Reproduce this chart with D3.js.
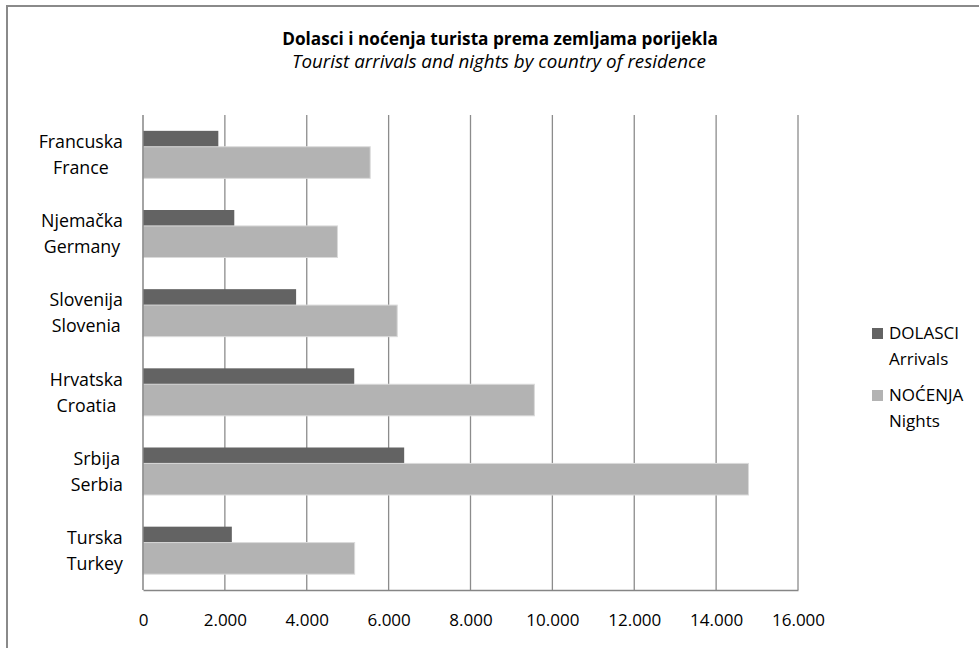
<!DOCTYPE html>
<html>
<head>
<meta charset="utf-8">
<script src="https://cdn.jsdelivr.net/npm/d3@7"></script>
<style>
  body { margin: 0; background: #fff; }
  text { font-family: "Open Sans", sans-serif; fill: #000; }
</style>
</head>
<body>
<svg id="chart"></svg>
<script>
// categories, two lines each (local name / english name)
const countries = ['Francuska', 'Njemačka', 'Slovenija', 'Hrvatska', 'Srbija', 'Turska'];
const countriesEn = ['France', 'Germany', 'Slovenia', 'Croatia', 'Serbia', 'Turkey'];
const arrivals = [1840, 2230, 3740, 5160, 6380, 2170];
const nights = [5550, 4750, 6210, 9560, 14790, 5170];
const xTicks = [0, 2000, 4000, 6000, 8000, 10000, 12000, 14000, 16000];

const W = 979, H = 648;
const svg = d3.select('#chart').attr('width', W).attr('height', H);

// outer frame
svg.append('rect')
  .attr('x', 7).attr('y', 6)
  .attr('width', W + 20).attr('height', H + 20)
  .attr('fill', 'none').attr('stroke', '#8a8a8a').attr('stroke-width', 2);

const plot = {left: 143, right: 798, top: 115, bottom: 590};

const x = d3.scaleLinear().domain([0, 16000]).range([plot.left, plot.right]);
const y = d3.scaleBand().domain(countries).range([plot.top, plot.bottom])
  .paddingInner(0.4).paddingOuter(0.2);

const loc = d3.formatLocale({decimal: ',', thousands: '.', grouping: [3], currency: ['', '']});
const fmt = loc.format(',');

// gridlines
svg.append('g')
  .selectAll('line')
  .data(xTicks.slice(1))
  .join('line')
  .attr('x1', d => x(d)).attr('x2', d => x(d))
  .attr('y1', plot.top).attr('y2', plot.bottom)
  .attr('stroke', '#8c8c8c').attr('stroke-width', 1.3);

// bars
const bh = y.bandwidth() * 0.665;
svg.append('g')
  .selectAll('rect')
  .data(countries)
  .join('rect')
  .attr('x', x(0))
  .attr('y', d => y(d))
  .attr('width', (d, i) => x(arrivals[i]) - x(0))
  .attr('height', bh)
  .attr('fill', '#636363');

svg.append('g')
  .selectAll('rect')
  .data(countries)
  .join('rect')
  .attr('x', x(0))
  .attr('y', d => y(d) + y.bandwidth() - bh)
  .attr('width', (d, i) => x(nights[i]) - x(0))
  .attr('height', bh)
  .attr('fill', '#b3b3b3')
  .attr('stroke', '#dadada').attr('stroke-width', 1);

// axes lines
svg.append('line')
  .attr('x1', plot.left).attr('x2', plot.left)
  .attr('y1', plot.top).attr('y2', plot.bottom)
  .attr('stroke', '#868686').attr('stroke-width', 1.5);

const xAxis = svg.append('g')
  .attr('transform', `translate(0, ${plot.bottom})`)
  .call(d3.axisBottom(x).tickValues(xTicks).tickFormat(fmt).tickSize(0).tickPadding(24));
xAxis.select('.domain').attr('stroke', '#868686').attr('stroke-width', 1.5);
xAxis.selectAll('text').attr('font-size', 17).attr('font-family', '"Open Sans", sans-serif').attr('fill', '#000');

// category labels, block right-aligned, lines centered
const labelRight = 123;
countries.forEach((c, i) => {
  const cy = y(c) + y.bandwidth() / 2;
  const g = svg.append('g');
  const t1 = g.append('text').attr('font-size', 17.8).attr('text-anchor', 'middle')
    .attr('y', cy - 6.5).text(c);
  const t2 = g.append('text').attr('font-size', 17.8).attr('text-anchor', 'middle')
    .attr('y', cy + 19.5).text(countriesEn[i]);
  const w = Math.max(t1.node().getComputedTextLength(), t2.node().getComputedTextLength());
  t1.attr('x', labelRight - w / 2);
  t2.attr('x', labelRight - w / 2);
});

// titles
svg.append('text')
  .attr('x', 500).attr('y', 45)
  .attr('text-anchor', 'middle')
  .attr('font-size', 17.2).attr('font-weight', 'bold')
  .text('Dolasci i noćenja turista prema zemljama porijekla');
svg.append('text')
  .attr('x', 499).attr('y', 68)
  .attr('text-anchor', 'middle')
  .attr('font-size', 18.8).attr('font-style', 'italic')
  .text('Tourist arrivals and nights by country of residence');

// legend
const legend = [
  {name: 'DOLASCI', sub: 'Arrivals', color: '#636363', y: 328},
  {name: 'NOĆENJA', sub: 'Nights', color: '#b3b3b3', y: 390}
];
const lg = svg.append('g');
legend.forEach(l => {
  lg.append('rect').attr('x', 872).attr('y', l.y).attr('width', 11).attr('height', 11).attr('fill', l.color);
  lg.append('text').attr('x', 889).attr('y', l.y + 11).attr('font-size', 17).text(l.name);
  lg.append('text').attr('x', 889).attr('y', l.y + 37).attr('font-size', 17).text(l.sub);
});
</script>
</body>
</html>
